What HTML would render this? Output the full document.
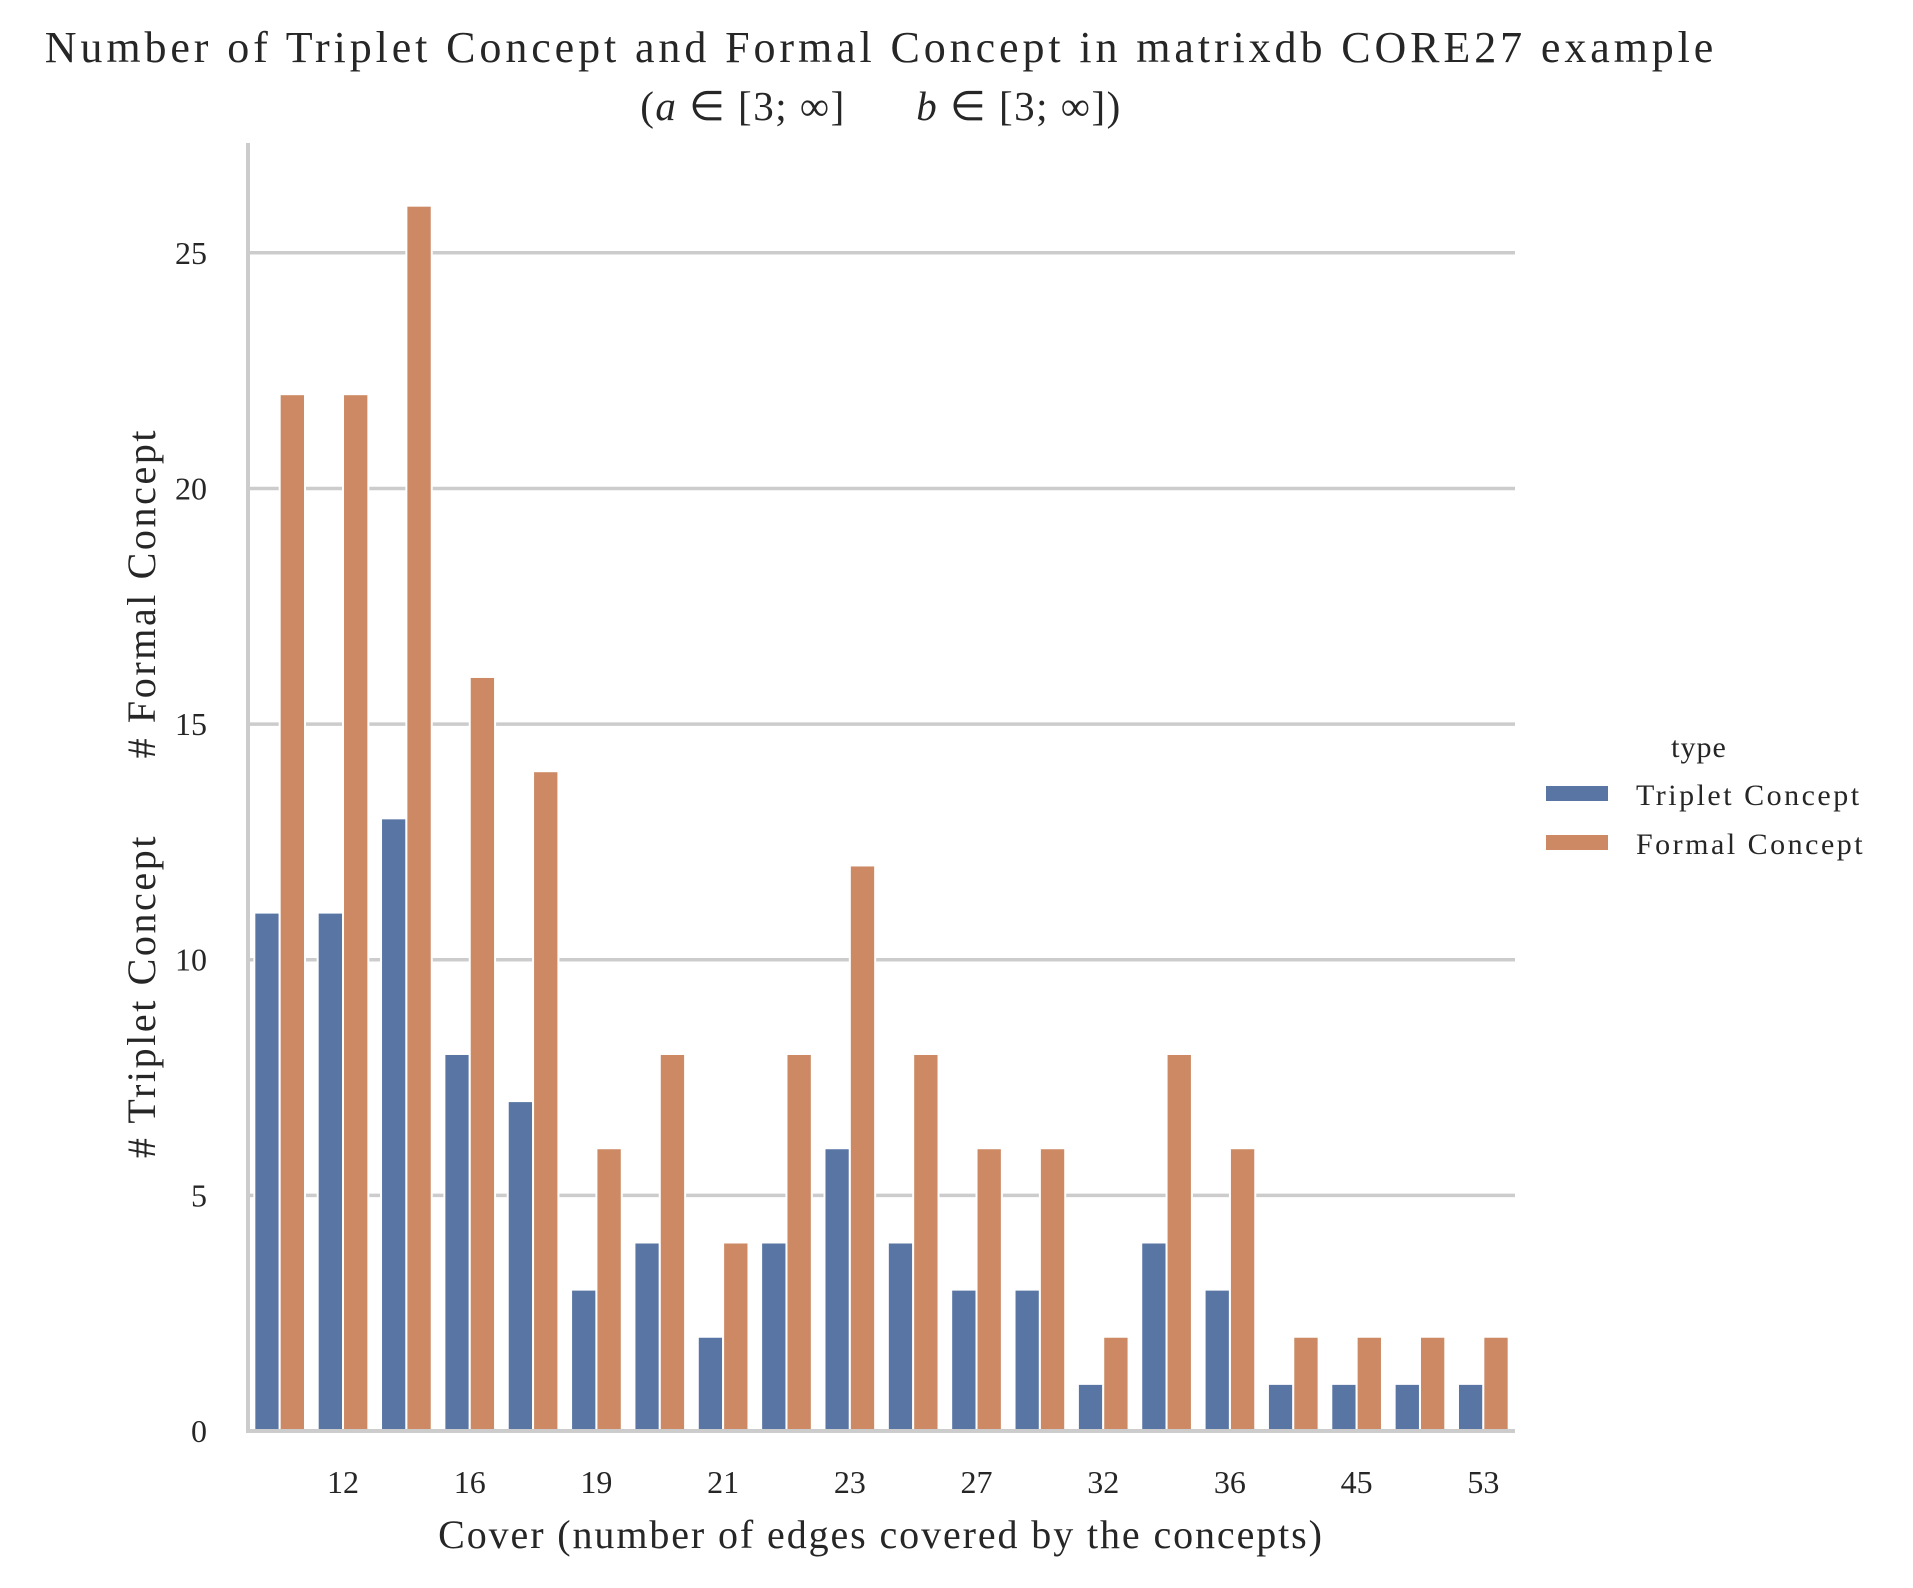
<!DOCTYPE html>
<html><head><meta charset="utf-8"><style>body{margin:0;background:#fff}svg{display:block}text{font-family:"Liberation Serif",serif;fill:#262626}</style></head>
<body>
<svg id="chart" width="1913" height="1588" viewBox="0 0 1913 1588">
<text x="881" y="62" font-size="44" letter-spacing="3.9" text-anchor="middle">Number of Triplet Concept and Formal Concept in matrixdb CORE27 example</text>
<text x="881" y="120" font-size="41" letter-spacing="1.5" text-anchor="middle" xml:space="preserve">(<tspan font-style="italic">a</tspan> ∈ [3; ∞]      <tspan font-style="italic">b</tspan> ∈ [3; ∞])</text>
<g id="grid"></g><g id="bars"></g><g id="axes"></g>
<text transform="translate(155,793) rotate(-90)" font-size="40" letter-spacing="2.6" text-anchor="middle" xml:space="preserve"># Triplet Concept      # Formal Concept</text>
<text x="881" y="1548" font-size="40" letter-spacing="1.9" text-anchor="middle">Cover (number of edges covered by the concepts)</text>
<g>
<text x="1699" y="757" font-size="30" letter-spacing="1" text-anchor="middle">type</text>
<rect x="1546" y="786" width="62" height="15" fill="#5875a4"/>
<text x="1636" y="805" font-size="30" letter-spacing="2.5">Triplet Concept</text>
<rect x="1546" y="835" width="62" height="15" fill="#cc8963"/>
<text x="1636" y="854" font-size="30" letter-spacing="2.5">Formal Concept</text>
</g>
</svg>
<script>
const categories=["11","12","14","16","17","19","20","21","22","23","25","27","30","32","34","36","40","45","48","53"];
const tripletValues=[11,11,13,8,7,3,4,2,4,6,4,3,3,1,4,3,1,1,1,1];
const formalValues=[22,22,26,16,14,6,8,4,8,12,8,6,6,2,8,6,2,2,2,2];
const yTicks=[0,5,10,15,20,25];
const NS="http://www.w3.org/2000/svg";
const L=248,R=1515,B=1431,T=143,YMAX=27.33;
const y=v=>B-(B-T)*v/YMAX;
const bw=(R-L)/categories.length;
const x=i=>L+bw*i;
function mk(tag,attrs,parent){const e=document.createElementNS(NS,tag);for(const k in attrs)e.setAttribute(k,attrs[k]);parent.appendChild(e);return e;}
const grid=document.getElementById('grid'),bars=document.getElementById('bars'),axes=document.getElementById('axes');
yTicks.forEach(t=>{
 if(t>0){const g=mk('line',{x1:L,x2:R,y1:y(t),y2:y(t),stroke:'#cccccc','stroke-width':3.5},grid);
 
 }
 const tx=mk('text',{x:L-41,y:y(t)+11,'font-size':32,'text-anchor':'end'},axes);tx.textContent=t;
 
 
});
categories.forEach((c,i)=>{
 const w=bw*0.4;
 const r1=mk('rect',{x:x(i)+bw*0.1,y:y(tripletValues[i]),width:w,height:B-y(tripletValues[i]),fill:'#5875a4',stroke:'#fff','stroke-width':2},bars);
 
 
 const r2=mk('rect',{x:x(i)+bw*0.5,y:y(formalValues[i]),width:w,height:B-y(formalValues[i]),fill:'#cc8963',stroke:'#fff','stroke-width':2},bars);
 
 
 if(i%2===1){const tx=mk('text',{x:x(i)+bw/2,y:1493,'font-size':32,'text-anchor':'middle'},axes);tx.textContent=c;
 
 }
});
const ax=mk('line',{x1:L,x2:L,y1:T,y2:B+2,stroke:'#cccccc','stroke-width':4},axes);


const bx=mk('line',{x1:L-2,x2:R,y1:B,y2:B,stroke:'#cccccc','stroke-width':4},axes);


</script>
</body></html>
